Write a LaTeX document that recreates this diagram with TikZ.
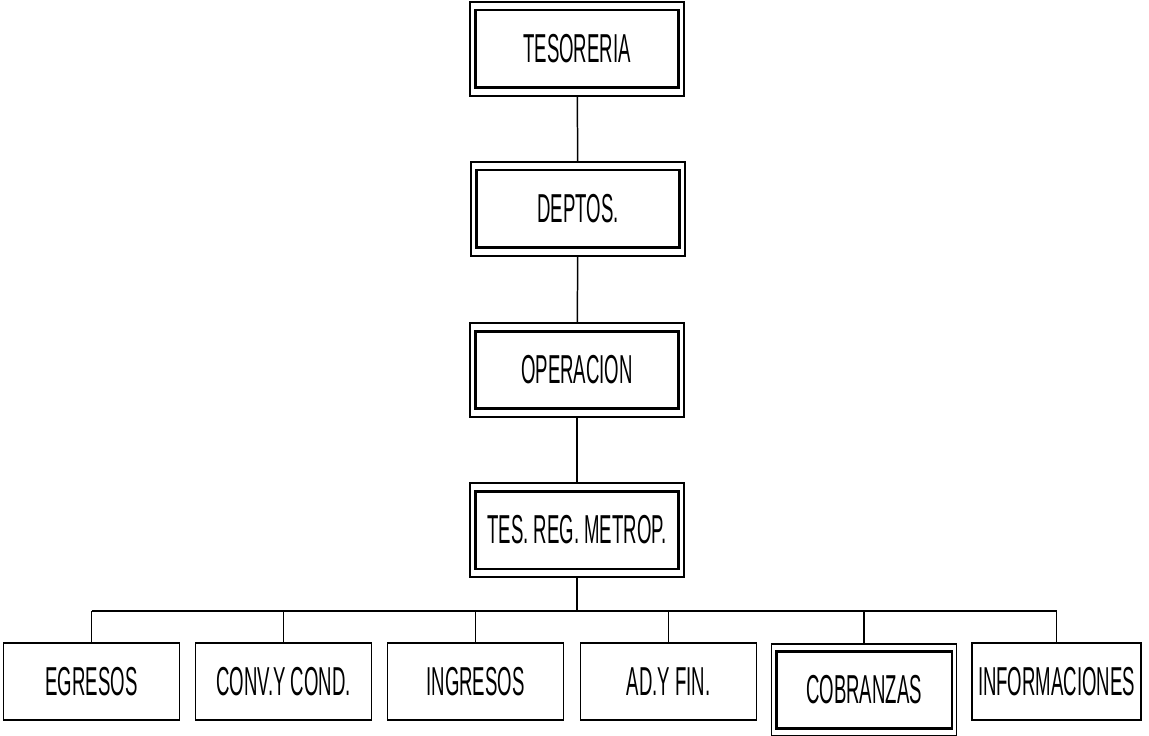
\documentclass[tikz,border=0pt]{standalone}
\usepackage{fontspec}
\setmainfont{Liberation Sans}[FakeStretch=0.46]
\usetikzlibrary{fit}

\begin{document}
\begin{tikzpicture}[
  x=0.02cm, y=-0.02cm,
  unit/.style={draw=black, line width=0.85pt, minimum width=3.52cm,
    minimum height=1.54cm, inner sep=0pt, align=center,
    font=\fontsize{23}{27}\selectfont},
  head/.style={unit, line width=1.7pt, minimum width=4.06cm,
    minimum height=1.56cm},
  frame/.style={draw=black, line width=0.85pt, inner xsep=0.08cm,
    inner ysep=0.13cm},
  link/.style={line width=0.85pt, draw=black}
]
\useasboundingbox (0,0) rectangle (1149,736);

% upper chain
\node[head] (tesoreria) at (577,49) {TESORERIA};
\node[frame, fit=(tesoreria)] (tesoreriaframe) {};
\node[head] (deptos) at (578,209) {DEPTOS.};
\node[frame, fit=(deptos)] (deptosframe) {};
\node[head] (operacion) at (577,370) {OPERACION};
\node[frame, fit=(operacion)] (operacionframe) {};
\node[head] (metrop) at (577,530) {TES. REG. METROP.};
\node[frame, fit=(metrop)] (metropframe) {};

\draw[link] (tesoreriaframe) -- (deptosframe);
\draw[link] (deptosframe) -- (operacionframe);
\draw[link] (operacionframe) -- (metropframe);

% lower row
\node[unit] (egresos) at (91.5,681.5) {EGRESOS};
\node[unit] (conv) at (283.5,681.5) {CONV.Y COND.};
\node[unit] (ingresos) at (475.5,681.5) {INGRESOS};
\node[unit] (adfin) at (668.5,681.5) {AD.Y FIN.};
\node[unit, line width=1.7pt] (cobranzas) at (864,690) {COBRANZAS};
\node[frame, inner xsep=0.06cm, inner ysep=0.12cm, fit=(cobranzas)]
  (cobranzasframe) {};
\node[unit, minimum width=3.38cm] (informaciones) at (1056.5,681.5)
  {INFORMACIONES};

\coordinate (bus) at (577,611);
\draw[link] (metropframe.south) -- (bus);
\draw[link] (egresos.north |- bus) -- (informaciones.north |- bus);
\foreach \n in {egresos,conv,ingresos,adfin,cobranzasframe,informaciones}
  \draw[link] (\n.north) -- (\n.north |- bus);
\end{tikzpicture}
\end{document}
